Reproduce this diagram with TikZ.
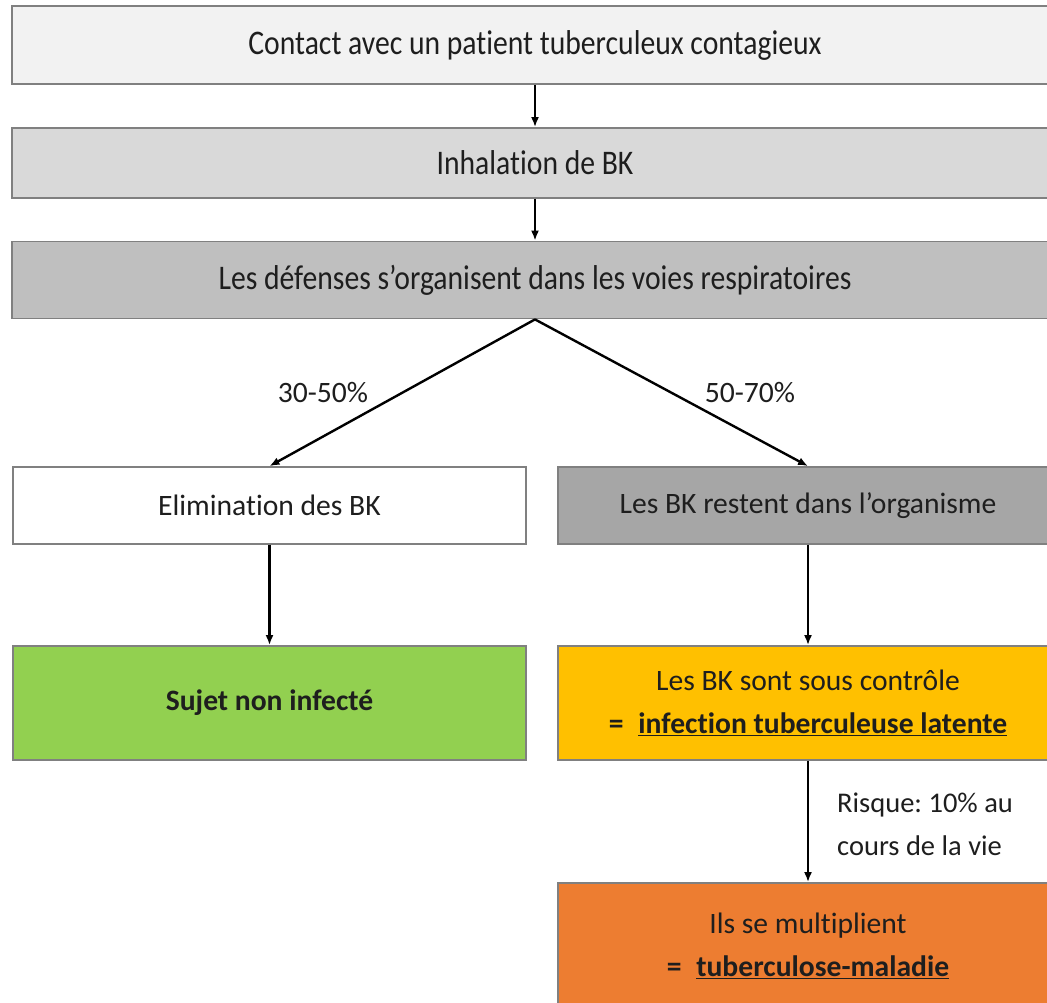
\documentclass[tikz,border=0pt]{standalone}
\usepackage{fontspec}
\setmainfont[Ligatures={NoCommon}]{Carlito}
\newfontfamily\condfont[FakeStretch=0.86,Ligatures={NoCommon}]{Carlito}
\usetikzlibrary{arrows.meta}
\definecolor{boxline}{RGB}{128,128,128}
\definecolor{txt}{RGB}{30,30,30}
\definecolor{fillA}{RGB}{242,242,242}
\definecolor{fillB}{RGB}{217,217,217}
\definecolor{fillC}{RGB}{191,191,191}
\definecolor{fillD}{RGB}{166,166,166}
\definecolor{fillGreen}{RGB}{146,208,80}
\definecolor{fillYellow}{RGB}{255,192,0}
\definecolor{fillOrange}{RGB}{237,125,49}
\tikzset{
  box/.style={draw=boxline, line width=1.8pt, rectangle, inner sep=0pt, text=txt, align=center, font=\fontsize{29.6}{43}\selectfont\frenchspacing},
  condbox/.style={box, font=\fontsize{34.5}{44}\selectfont\condfont},
  arr/.style={draw=black, line width=2.4pt, -{Latex[length=10pt,width=8pt]}},
  lbl/.style={text=txt, inner sep=0pt, font=\fontsize{29.6}{43}\selectfont\frenchspacing}
}
\begin{document}
\begin{tikzpicture}[x=1pt,y=-1pt]
\clip (0,0) rectangle (1047,1002);
\fill[white] (0,0) rectangle (1047,1002);
\node[condbox, fill=fillA, minimum width=1046pt, minimum height=78pt] (n1) at (535,45) {Contact avec un patient tuberculeux contagieux};
\node[condbox, fill=fillB, minimum width=1046pt, minimum height=70pt] (n2) at (535,163) {Inhalation de BK};
\node[condbox, fill=fillC, minimum width=1046pt, minimum height=77pt] (n3) at (535,280) {Les défenses s’organisent dans les voies respiratoires};
\node[box, fill=white, minimum width=513pt, minimum height=77pt] (elim) at (269.5,505.5) {Elimination des BK};
\node[box, fill=fillD, minimum width=500pt, minimum height=77pt] (reste) at (808,505.5) {Les BK restent dans l’organisme};
\node[box, fill=fillGreen, minimum width=513pt, minimum height=114pt] (green) at (269.5,703) {\textbf{Sujet non infecté}};
\node[box, fill=fillYellow, minimum width=500pt, minimum height=114pt] (yellow) at (808,703) {Les BK sont sous contrôle\\\textbf{=\enspace\underline{infection tuberculeuse latente}}};
\node[box, fill=fillOrange, minimum width=500pt, minimum height=125pt] (orange) at (808,945.5) {Ils se multiplient\\\textbf{=\enspace\underline{tuberculose-maladie}}};
\draw[arr] (n1) -- (n2);
\draw[arr] (n2) -- (n3);
\draw[arr] (n3.south) -- (elim.north);
\draw[arr] (n3.south) -- (reste.north);
\draw[arr] (elim) -- (green);
\draw[arr] (reste) -- (yellow);
\draw[arr] (yellow) -- (orange);
\node[lbl] (l1) at (323,393) {30-50\%};
\node[lbl] (l2) at (750,393) {50-70\%};
\node[lbl, anchor=west, align=left, font=\fontsize{28.5}{43}\selectfont\frenchspacing] (l3) at (837,824) {Risque: 10\% au\\cours de la vie};
\end{tikzpicture}
\end{document}
